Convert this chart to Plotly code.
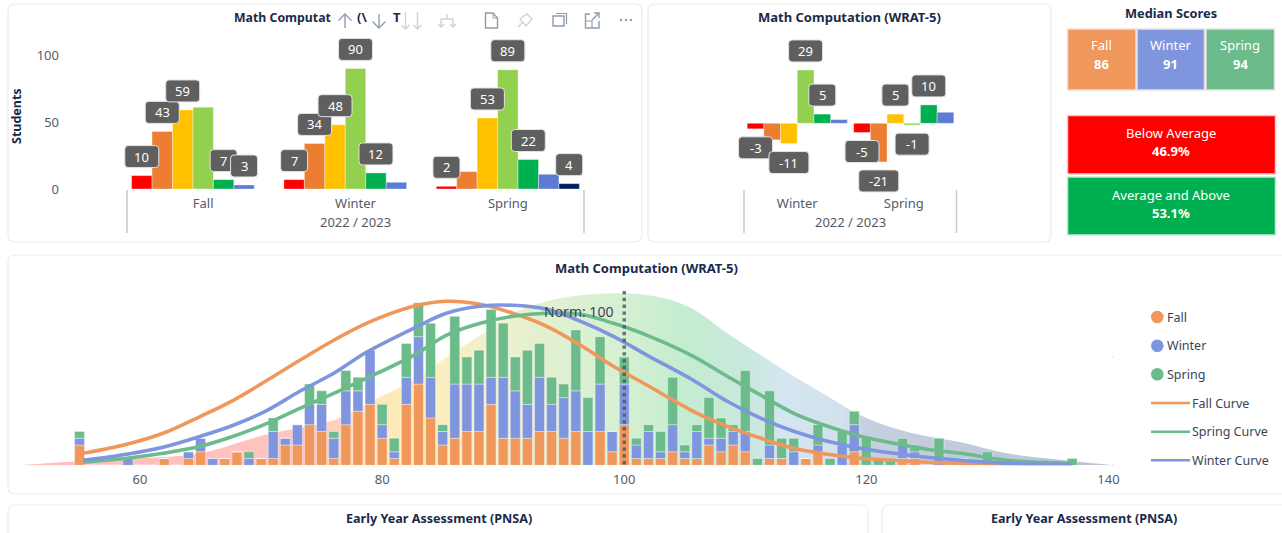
import plotly.graph_objects as go

W, H = 1282, 533
FONT = "Noto Sans"
NAVY = "#1b2a4a"
GRAY = "#555b66"

SERIES_NAMES = ["Well Below", "Below", "Low Average", "Average", "High Average", "Above", "Well Above"]
SERIES_COLORS = ["#FF0000", "#ED7D31", "#FFC000", "#92D050", "#00B050", "#5B7BD5", "#002060"]

TERMS = ["Fall", "Winter", "Spring"]
FALL_BANDS = [10, 43, 59, 61, 7, 3, 0]
WINTER_BANDS = [7, 34, 48, 90, 12, 5, 0]
SPRING_BANDS = [2, 13, 53, 89, 22, 11, 4]
LEFT_UNLABELLED = {(0, 3), (0, 6), (1, 5), (1, 6), (2, 1), (2, 5)}

CHANGE_TERMS = ["Winter", "Spring"]
WINTER_CHANGE = [-3, -9, -11, 29, 5, 2]
SPRING_CHANGE = [-5, -21, 5, -1, 10, 6]
MID_UNLABELLED = {(0, 1), (0, 5), (1, 5)}

MEDIAN_TERMS = ["Fall", "Winter", "Spring"]
MEDIAN_VALUES = [86, 91, 94]
TERM_COLORS = ["#F0975C", "#7F95DE", "#6BBB8B"]
BELOW_PCT = "46.9%"
ABOVE_PCT = "53.1%"

SCORES = list(range(55, 138))
FALL_COUNTS = [3, 0, 0, 0, 0, 0, 0, 1, 0, 1,
               2, 0, 1, 2, 0, 1, 1, 3, 3, 6,
               5, 1, 6, 8, 9, 4, 1, 9, 12, 7,
               3, 4, 5, 5, 9, 4, 4, 4, 5, 5,
               4, 5, 0, 5, 2, 6, 1, 1, 1, 2,
               1, 1, 3, 2, 3, 2, 0, 1, 1, 0,
               1, 2, 0, 0, 2, 0, 0, 0, 1, 1,
               0, 0, 0, 0, 0, 0, 0, 0, 0, 0,
               0, 0, 0]
WINTER_COUNTS = [1, 0, 0, 0, 1, 0, 0, 0, 0, 1,
                 2, 1, 0, 0, 1, 0, 4, 1, 3, 3,
                 4, 3, 5, 3, 8, 2, 1, 4, 7, 6,
                 2, 8, 7, 7, 4, 9, 7, 5, 8, 4,
                 6, 6, 5, 7, 3, 6, 2, 4, 1, 4,
                 1, 4, 1, 2, 2, 3, 0, 2, 0, 2,
                 0, 1, 0, 3, 4, 0, 0, 0, 2, 1,
                 0, 1, 0, 1, 0, 0, 0, 0, 0, 0,
                 0, 0, 0]
SPRING_COUNTS = [1, 0, 0, 0, 0, 0, 0, 0, 0, 0,
                 0, 0, 0, 0, 1, 0, 2, 0, 0, 3,
                 2, 1, 3, 2, 0, 3, 2, 5, 5, 8,
                 1, 10, 4, 5, 10, 8, 5, 8, 5, 4,
                 2, 9, 5, 7, 0, 4, 1, 1, 3, 7,
                 1, 1, 6, 3, 1, 9, 1, 8, 3, 2,
                 0, 3, 1, 2, 2, 4, 1, 1, 1, 1,
                 0, 3, 0, 0, 0, 2, 0, 0, 0, 0,
                 0, 0, 1]

AREA_X = [50, 55, 60, 65, 70.5, 76, 79.8, 82.6, 85.3, 88.1, 90.8, 93.6, 96.4, 100, 103.3,
          105.7, 108.5, 111.3, 114, 116.8, 119.5, 122.3, 125, 127.8, 131.6, 137.1, 140.4]
AREA_DENSITY = [0, 4, 7, 12, 31, 45, 68, 85, 108, 130, 152, 164, 170, 172, 167,
                156, 132, 110, 89, 69, 50, 37, 29, 23, 12, 4, 0]

CURVE_X = [55.3, 58.9, 61.9, 65, 67.7, 70.5, 73.2, 76, 78.7, 82.6, 85.3, 88.1, 90.8, 93.6,
           96.4, 99.1, 101.9, 105.7, 108.5, 111.3, 114, 116.8, 119.5, 122.3, 125, 127.8, 131.6, 137]
FALL_CURVE = [12, 21, 32, 49, 65, 85, 105, 125, 142, 159, 164, 161, 152, 139,
              120, 99, 80, 54, 39, 27, 17, 11, 7, 5, 3, 2, 1, 0.5]
WINTER_CURVE = [5, 11, 18, 29, 40, 55, 74, 92, 113, 137, 152, 159, 160, 156,
                144, 129, 110, 85, 64, 47, 34, 24, 17, 12, 8, 5, 2, 1]
SPRING_CURVE = [3, 7, 12, 19, 29, 42, 57, 72, 87, 110, 130, 142, 149, 152,
                151, 142, 130, 109, 89, 70, 52, 39, 29, 22, 16, 12, 5, 2]
X_TICKS = [60, 80, 100, 120, 140]
NORM = 100


def X(px):
    return px / W


def Y(py):
    return 1 - py / H


shapes, annots = [], []


def text(px, py, s, size=12, color=NAVY, bold=False, anchor="center", angle=0):
    annots.append(dict(x=X(px), y=Y(py), xref="paper", yref="paper", showarrow=False, text=f"<b>{s}</b>" if bold else s,
                       font=dict(family=FONT, size=size, color=color), xanchor=anchor, yanchor="middle", textangle=angle))


def rrect(x0, y0, x1, y1, r):
    return (f"M{X(x0+r)},{Y(y0)} L{X(x1-r)},{Y(y0)} Q{X(x1)},{Y(y0)} {X(x1)},{Y(y0+r)} "
            f"L{X(x1)},{Y(y1-r)} Q{X(x1)},{Y(y1)} {X(x1-r)},{Y(y1)} L{X(x0+r)},{Y(y1)} "
            f"Q{X(x0)},{Y(y1)} {X(x0)},{Y(y1-r)} L{X(x0)},{Y(y0+r)} Q{X(x0)},{Y(y0)} {X(x0+r)},{Y(y0)} Z")


def card(x0, y0, x1, y1):
    shapes.append(dict(type="path", xref="paper", yref="paper", path=rrect(x0, y0, x1, y1, 7), layer="below",
                       line=dict(color="#ececec", width=1.2), fillcolor="white"))


def rect(x0, y0, x1, y1, fill, line):
    shapes.append(dict(type="rect", xref="paper", yref="paper", x0=X(x0), x1=X(x1), y0=Y(y0), y1=Y(y1), layer="below",
                       fillcolor=fill, line=dict(color=line, width=1.5)))


def stroke(points, color, width=1.4, close=False):
    p = "M" + " L".join(f"{X(a)},{Y(b)}" for a, b in points) + (" Z" if close else "")
    shapes.append(dict(type="path", xref="paper", yref="paper", path=p, line=dict(color=color, width=width)))


def value_label(xref, yref, xv, yv, value):
    up = 19 if yv >= 0 else -19
    s = str(value)
    w = {1: 13.5, 2: 17, 3: 20}[len(s)]
    h, r = 11, 3.5
    y0, y1 = up - h, up + h
    path = (f"M{-w+r},{y0} L{w-r},{y0} Q{w},{y0} {w},{y0+r} L{w},{y1-r} Q{w},{y1} {w-r},{y1} "
            f"L{-w+r},{y1} Q{-w},{y1} {-w},{y1-r} L{-w},{y0+r} Q{-w},{y0} {-w+r},{y0} Z")
    shapes.append(dict(type="path", xref=xref, yref=yref, xsizemode="pixel", ysizemode="pixel",
                       xanchor=xv, yanchor=yv, path=path, fillcolor="#5f5f5f", line=dict(color="#e4e4e4", width=1)))
    annots.append(dict(x=xv, y=yv, xref=xref, yref=yref, yshift=up, showarrow=False, text=s,
                       font=dict(family=FONT, size=13, color="white"), xanchor="center", yanchor="middle"))


fig = go.Figure()
GAP = 0.06

# ---------- top-left chart
left_rows = [FALL_BANDS, WINTER_BANDS, SPRING_BANDS]
for i, (name, col) in enumerate(zip(SERIES_NAMES, SERIES_COLORS)):
    fig.add_trace(go.Bar(x=list(range(len(TERMS))), y=[r[i] for r in left_rows], name=name,
                         marker=dict(color=col, line=dict(color="rgba(255,255,255,.6)", width=0.6)),
                         xaxis="x", yaxis="y", showlegend=False, offsetgroup=str(i), width=(1 - GAP) / 7))
for c, row in enumerate(left_rows):
    for i, v in enumerate(row):
        if (c, i) not in LEFT_UNLABELLED:
            value_label("x", "y", c + (i - 3) * (1 - GAP) / 7, v, v)

# ---------- top-middle chart
mid_rows = [WINTER_CHANGE, SPRING_CHANGE]
for i in range(6):
    fig.add_trace(go.Bar(x=list(range(len(CHANGE_TERMS))), y=[r[i] for r in mid_rows], name=SERIES_NAMES[i],
                         marker=dict(color=SERIES_COLORS[i], line=dict(color="rgba(255,255,255,.6)", width=0.6)),
                         xaxis="x2", yaxis="y2", showlegend=False, offsetgroup="m" + str(i), width=(1 - GAP) / 6))
for c, row in enumerate(mid_rows):
    for i, v in enumerate(row):
        if (c, i) not in MID_UNLABELLED:
            value_label("x2", "y2", c + (i - 2.5) * (1 - GAP) / 6, v, v)

# ---------- main distribution chart
def frac(v):
    return (v - AREA_X[0]) / (AREA_X[-1] - AREA_X[0])


stops = [(50, "#ffbdbd"), (74, "#ffc5c0"), (77, "#ffd6b8"), (80, "#fee8b8"), (84, "#fdeec0"), (90, "#eef0cc"),
         (95, "#def1d0"), (100, "#d5f0d2"), (105, "#c3ecd0"), (110, "#c8e8dc"), (113, "#d4e6f0"), (118, "#d3e1ee"),
         (120, "#c5cfe0"), (140.4, "#bcc3d6")]
fig.add_trace(go.Scatter(x=AREA_X, y=AREA_DENSITY, mode="lines", line=dict(width=0, shape="spline"), fill="tozeroy",
                         fillgradient=dict(type="horizontal", colorscale=[[frac(a), c] for a, c in stops]),
                         xaxis="x3", yaxis="y3", showlegend=False, name="Norm"))
base = [0] * len(SCORES)
for name, vals, col in zip(MEDIAN_TERMS, [FALL_COUNTS, WINTER_COUNTS, SPRING_COUNTS], TERM_COLORS):
    fig.add_trace(go.Bar(x=SCORES, y=vals, base=list(base), name=name, width=0.82,
                         marker=dict(color=col, line=dict(color="rgba(255,255,255,.55)", width=0.7)),
                         xaxis="x3", yaxis="y4", showlegend=False, offset=-0.41))
    base = [a + b for a, b in zip(base, vals)]
for name, vals, col in [("Fall Curve", FALL_CURVE, TERM_COLORS[0]), ("Spring Curve", SPRING_CURVE, TERM_COLORS[2]),
                        ("Winter Curve", WINTER_CURVE, TERM_COLORS[1])]:
    fig.add_trace(go.Scatter(x=CURVE_X, y=vals, name=name, mode="lines", line=dict(color=col, width=3.6, shape="spline"),
                             xaxis="x3", yaxis="y5", showlegend=False))

# ---------- cards and titles
card(8, 4, 642, 242)
card(648, 4, 1051, 242)
card(8, 255, 1290, 494)
card(8, 505, 868, 560)
card(882, 505, 1290, 560)
TITLE = "Math Computation (WRAT-5)"
TS = 13
text(849.5, 17, TITLE, TS, bold=True)
text(646, 268, TITLE, TS, bold=True)
text(232, 17, "Math Computat", 12.3, bold=True, anchor="left")
text(362, 17, "(\\", TS, bold=True)
text(397, 17, "T", TS, bold=True)
text(439, 518, "Early Year Assessment (PNSA)", 12.6, bold=True)
text(1084, 518, "Early Year Assessment (PNSA)", 12.6, bold=True)
text(1171, 13, "Median Scores", 12.8, bold=True)
text(16, 116, "Students", 12.5, bold=True, angle=-90)

for px, s in [(355, "2022 / 2023"), (850, "2022 / 2023")]:
    text(px, 222, s, 13, GRAY)
for a in [127, 584, 744, 956.5]:
    shapes.append(dict(type="line", xref="paper", yref="paper", x0=X(a), x1=X(a), y0=Y(190), y1=Y(233),
                       line=dict(color="#c9c9c9", width=1.5)))

# ---------- median tiles
tiles = [(1067.5, 1136), (1137, 1204.5), (1206, 1274.5)]
for (a, b), term, val, col in zip(tiles, MEDIAN_TERMS, MEDIAN_VALUES, TERM_COLORS):
    rect(a, 29, b, 90, col, "#e6e2e0")
    text((a + b) / 2, 45.5, term, 13, "white")
    text((a + b) / 2, 64, val, 13, "white", bold=True)
rect(1067.5, 115.5, 1275.5, 174, "#FF0000", "#f6c9c9")
rect(1067.5, 177, 1275.5, 235, "#00B050", "#c9ead6")
text(1171, 133, "Below Average", 13, "white")
text(1171, 151, BELOW_PCT, 13, "white", bold=True)
text(1171, 195, "Average and Above", 13, "white")
text(1171, 213, ABOVE_PCT, 13, "white", bold=True)

# ---------- norm marker
shapes.append(dict(type="line", xref="x3", yref="paper", x0=NORM, x1=NORM, y0=Y(291), y1=Y(465),
                   line=dict(color="rgba(70,84,104,.8)", width=3.4, dash="dot")))
annots.append(dict(x=NORM, xref="x3", y=Y(311), yref="paper", xshift=-46, showarrow=False, text=f"Norm: {NORM}",
                   font=dict(family=FONT, size=14, color="#3a4458"), xanchor="center", yanchor="middle"))
for py in [357, 465]:
    stroke([(1112.5, py), (1113.5, py)], "#c4c8ce", 1)

# ---------- legend
for py, name, col in zip([317, 345.7, 374.3], MEDIAN_TERMS, TERM_COLORS):
    shapes.append(dict(type="circle", xref="paper", yref="paper", x0=X(1151), x1=X(1163.6), y0=Y(py - 6.3), y1=Y(py + 6.3),
                       fillcolor=col, line=dict(width=0)))
    text(1164.5, py, name, 12.5, "#3a4458", anchor="left")
for py, name, col in zip([403, 431.7, 460.3], ["Fall Curve", "Spring Curve", "Winter Curve"],
                         [TERM_COLORS[0], TERM_COLORS[2], TERM_COLORS[1]]):
    shapes.append(dict(type="line", xref="paper", yref="paper", x0=X(1151), x1=X(1190), y0=Y(py), y1=Y(py),
                       line=dict(color=col, width=2.6)))
    text(1190, py, name, 12.5, "#3a4458", anchor="left")

# ---------- toolbar icons
DARK, LIGHT = "#8f9cab", "#ccd2da"
stroke([(345, 28), (345, 14)], DARK)
stroke([(338.5, 20.5), (345, 14), (351.5, 20.5)], DARK)
stroke([(379, 14), (379, 28)], DARK)
stroke([(372.5, 21.5), (379, 28), (385.5, 21.5)], DARK)
for a in [405.5, 417.5]:
    stroke([(a, 12), (a, 29)], LIGHT)
    stroke([(a - 4, 25), (a, 29), (a + 4, 25)], LIGHT)
stroke([(447, 14), (447, 19)], LIGHT)
stroke([(441, 27), (441, 19), (453, 19), (453, 27)], LIGHT)
stroke([(438, 24), (441, 27), (444, 24)], LIGHT)
stroke([(450, 24), (453, 27), (456, 24)], LIGHT)
stroke([(485.5, 13), (493, 13), (497.5, 18), (497.5, 28), (485.5, 28)], DARK, close=True)
stroke([(493, 13), (493, 18), (497.5, 18)], DARK, 1)
stroke([(518, 27), (523, 22)], LIGHT)
stroke([(520, 19), (527, 14), (532, 19), (526, 26)], LIGHT, close=True)
stroke([(553, 16), (564, 16), (564, 26), (553, 26)], DARK, close=True)
stroke([(556, 13.5), (566.5, 13.5), (566.5, 24)], DARK, 1.2)
stroke([(590, 14), (585.5, 14), (585.5, 28), (599, 28), (599, 21)], DARK)
stroke([(585.5, 21), (592, 21), (592, 28)], DARK, 1.1)
stroke([(592, 20), (599, 13)], DARK)
stroke([(594, 13), (599, 13), (599, 18)], DARK)
for a in [621, 626, 631]:
    shapes.append(dict(type="circle", xref="paper", yref="paper", x0=X(a - 1.2), x1=X(a + 1.2), y0=Y(18.8), y1=Y(21.2),
                       fillcolor=DARK, line=dict(width=0)))

# ---------- layout
tickfont = dict(family=FONT, size=13, color=GRAY)
hidden_y = dict(visible=False, fixedrange=True, automargin=False)
xcommon = dict(tickmode="array", tickfont=tickfont, ticks="outside", ticklen=2, tickcolor="rgba(0,0,0,0)",
               showgrid=False, zeroline=False, showline=False, automargin=False)
# the plot areas are wider and deeper than the category span so label boxes are not clipped
LPAD = 25
L_CAT = (584 - 127) / 3
M_CAT = (957 - 744) / 2
fig.update_layout(
    width=W, height=H, autosize=False, margin=dict(l=0, r=0, t=0, b=0, pad=0), template="none",
    paper_bgcolor="white", plot_bgcolor="rgba(0,0,0,0)", barmode="group", bargap=GAP, bargroupgap=0,
    showlegend=False, shapes=shapes, annotations=annots,
    xaxis=dict(domain=[X(127 - LPAD), X(584 + LPAD)], range=[-0.5 - LPAD / L_CAT, 2.5 + LPAD / L_CAT],
               tickvals=[0, 1, 2], ticktext=TERMS, anchor="y", **xcommon),
    yaxis=dict(domain=[Y(189), Y(25)], range=[0, 164 / 1.34], anchor="free", position=X(59), tickmode="array",
               tickvals=[0, 50, 100], tickfont=tickfont, showgrid=False, zeroline=False, showline=False, automargin=False),
    xaxis2=dict(domain=[X(744 - LPAD), X(957 + LPAD)], range=[-0.5 - LPAD / M_CAT, 1.5 + LPAD / M_CAT],
                anchor="free", position=Y(189), tickvals=[0, 1], ticktext=CHANGE_TERMS, **xcommon),
    yaxis2=dict(domain=[Y(240), Y(25)], range=[-(240 - 123.3) / 1.84, (123.3 - 25) / 1.84], anchor="x2", **hidden_y),
    xaxis3=dict(domain=[X(19), X(1114.5)], range=[50, 140.5], anchor="y3", tickvals=X_TICKS, **xcommon),
    yaxis3=dict(domain=[Y(465.3), Y(285)], range=[0, 180.3], anchor="x3", **hidden_y),
    yaxis4=dict(domain=[Y(465.3), Y(285)], range=[0, 180.3 / 6.77], anchor="x3", overlaying="y3", **hidden_y),
    yaxis5=dict(domain=[Y(465.3), Y(285)], range=[0, 180.3], anchor="x3", overlaying="y3", **hidden_y),
)

fig.write_html("out.html", config=dict(displayModeBar=False),
               post_script="document.body.style.margin='0';document.documentElement.style.overflow='hidden';")
